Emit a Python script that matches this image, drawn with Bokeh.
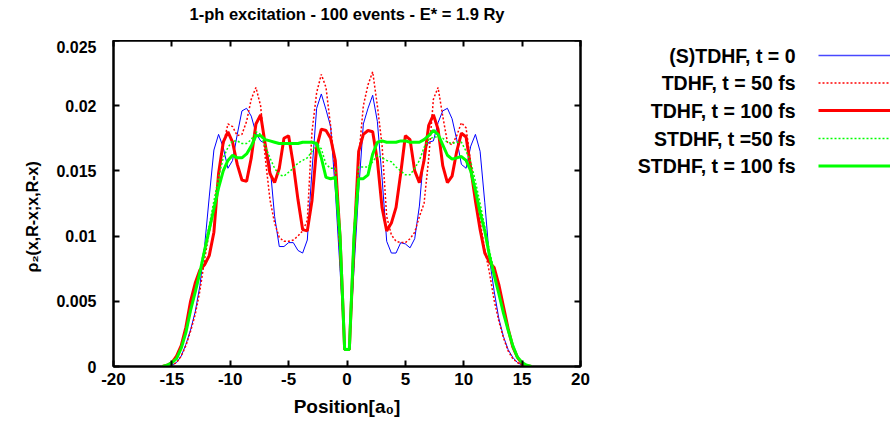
from bokeh.plotting import figure
from bokeh.models import Range1d, FixedTicker, LinearAxis
from bokeh.layouts import row, column
from bokeh.embed import file_html
from bokeh.resources import INLINE
from bokeh.core.properties import value

# ---------------- data ----------------
x_pos = [-15.8, -15.4, -15.0, -14.6, -14.2, -13.8, -13.4, -13.0, -12.6, -12.2,
         -11.8, -11.4, -11.0, -10.6, -10.2, -9.8, -9.4, -9.0, -8.6, -8.2,
         -7.8, -7.4, -7.0, -6.6, -6.2, -5.8, -5.4, -5.0, -4.6, -4.2,
         -3.8, -3.4, -3.0, -2.6, -2.2, -1.8, -1.4, -1.0, -0.6, -0.2,
         0.2, 0.6, 1.0, 1.4, 1.8, 2.2, 2.6, 3.0, 3.4, 3.8,
         4.2, 4.6, 5.0, 5.4, 5.8, 6.2, 6.6, 7.0, 7.4, 7.8,
         8.2, 8.6, 9.0, 9.4, 9.8, 10.2, 10.6, 11.0, 11.4, 11.8,
         12.2, 12.6, 13.0, 13.4, 13.8, 14.2, 14.6, 15.0, 15.4, 15.8]

rho_t0 = [0.0, 0.00005, 0.0001, 0.0003, 0.0008, 0.0017, 0.0028, 0.0042, 0.0062, 0.0092,
          0.0130, 0.0166, 0.0178, 0.0168, 0.0152, 0.0158, 0.0178, 0.0196, 0.0198, 0.0192,
          0.0179, 0.0173, 0.0171, 0.0155, 0.0115, 0.0092, 0.0092, 0.0095, 0.0095, 0.0089,
          0.0087, 0.0097, 0.0150, 0.0198, 0.0209, 0.0197, 0.0184, 0.0135, 0.0075, 0.0013,
          0.0013, 0.0075, 0.0135, 0.0186, 0.0198, 0.0208, 0.0188, 0.0145, 0.0096, 0.0087,
          0.0087, 0.0095, 0.0094, 0.0091, 0.0098, 0.0123, 0.0165, 0.0172, 0.0173, 0.0187,
          0.0196, 0.0198, 0.0190, 0.0174, 0.0155, 0.0152, 0.0169, 0.0178, 0.0165, 0.0126,
          0.0083, 0.0058, 0.0037, 0.0023, 0.0013, 0.0007, 0.0003, 0.0001, 0.00005, 0.0]

rho_tdhf50 = [0.0, 0.00005, 0.0001, 0.0003, 0.0008, 0.0016, 0.0027, 0.0040, 0.0058, 0.0082,
              0.0103, 0.0120, 0.0145, 0.0170, 0.0186, 0.0184, 0.0177, 0.0178, 0.0188, 0.0205,
              0.0214, 0.0200, 0.0160, 0.0128, 0.0110, 0.0099, 0.0096, 0.0096, 0.0097, 0.0100,
              0.0104, 0.0112, 0.0180, 0.0210, 0.0224, 0.0214, 0.0184, 0.0148, 0.0085, 0.0013,
              0.0013, 0.0085, 0.0160, 0.0200, 0.0216, 0.0226, 0.0200, 0.0170, 0.0115, 0.0101,
              0.0096, 0.0095, 0.0095, 0.0098, 0.0103, 0.0115, 0.0125, 0.0160, 0.0205, 0.0214,
              0.0192, 0.0172, 0.0170, 0.0177, 0.0187, 0.0183, 0.0155, 0.0128, 0.0111, 0.0090,
              0.0072, 0.0051, 0.0035, 0.0022, 0.0012, 0.0006, 0.0003, 0.0001, 0.00005, 0.0]

rho_tdhf100 = [0.0, 0.0001, 0.0003, 0.0008, 0.0016, 0.0030, 0.0050, 0.0064, 0.0074, 0.0078,
               0.0085, 0.0103, 0.0148, 0.0172, 0.0180, 0.0172, 0.0155, 0.0143, 0.0142, 0.0160,
               0.0186, 0.0193, 0.0170, 0.0148, 0.0141, 0.0152, 0.0175, 0.0177, 0.0155, 0.0128,
               0.0105, 0.0104, 0.0127, 0.0168, 0.0182, 0.0181, 0.0175, 0.0158, 0.0100, 0.0013,
               0.0013, 0.0095, 0.0165, 0.0178, 0.0181, 0.0180, 0.0158, 0.0122, 0.0104, 0.0110,
               0.0122, 0.0148, 0.0177, 0.0174, 0.0150, 0.0141, 0.0158, 0.0185, 0.0193, 0.0182,
               0.0154, 0.0141, 0.0146, 0.0165, 0.0179, 0.0176, 0.0152, 0.0127, 0.0105, 0.0087,
               0.0080, 0.0076, 0.0063, 0.0046, 0.0029, 0.0015, 0.0007, 0.0002, 0.00005, 0.0]

rho_stdhf50 = [0.0, 0.0001, 0.0002, 0.0006, 0.0014, 0.0027, 0.0042, 0.0058, 0.0074, 0.0091,
               0.0108, 0.0127, 0.0145, 0.0160, 0.0168, 0.0173, 0.0173, 0.0171, 0.0171, 0.0174,
               0.0180, 0.0178, 0.0169, 0.0160, 0.0152, 0.0147, 0.0146, 0.0149, 0.0152, 0.0156,
               0.0158, 0.0160, 0.0165, 0.0171, 0.0167, 0.0155, 0.0152, 0.0152, 0.0105, 0.0013,
               0.0013, 0.0105, 0.0153, 0.0153, 0.0153, 0.0157, 0.0162, 0.0160, 0.0158, 0.0157,
               0.0153, 0.0150, 0.0147, 0.0147, 0.0152, 0.0158, 0.0168, 0.0174, 0.0176, 0.0176,
               0.0175, 0.0172, 0.0171, 0.0172, 0.0172, 0.0165, 0.0157, 0.0142, 0.0125, 0.0107,
               0.0089, 0.0073, 0.0057, 0.0042, 0.0028, 0.0016, 0.0007, 0.0003, 0.0001, 0.0]

rho_stdhf100 = [0.0, 0.0001, 0.0003, 0.0006, 0.0014, 0.0026, 0.0043, 0.0057, 0.0072, 0.0089,
                0.0105, 0.0121, 0.0137, 0.0150, 0.0158, 0.0162, 0.0160, 0.0160, 0.0163, 0.0169,
                0.0177, 0.0177, 0.0174, 0.0173, 0.0172, 0.0171, 0.0171, 0.0171, 0.0171, 0.0171,
                0.0172, 0.0172, 0.0172, 0.0171, 0.0160, 0.0145, 0.0144, 0.0145, 0.0100, 0.0013,
                0.0013, 0.0100, 0.0144, 0.0144, 0.0147, 0.0163, 0.0172, 0.0173, 0.0172, 0.0172,
                0.0172, 0.0173, 0.0173, 0.0172, 0.0172, 0.0172, 0.0174, 0.0177, 0.0181, 0.0178,
                0.0170, 0.0162, 0.0159, 0.0160, 0.0161, 0.0158, 0.0150, 0.0135, 0.0118, 0.0104,
                0.0085, 0.0070, 0.0056, 0.0041, 0.0028, 0.0016, 0.0007, 0.0003, 0.0001, 0.0]

series_names = ["(S)TDHF, t = 0", "TDHF, t = 50 fs", "TDHF, t = 100 fs",
                "STDHF, t =50 fs", "STDHF, t = 100 fs"]

x_ticks = [-20, -15, -10, -5, 0, 5, 10, 15, 20]
x_tick_labels = ["-20", "-15", "-10", "-5", "0", "5", "10", "15", "20"]
y_ticks = [0, 0.005, 0.01, 0.015, 0.02, 0.025]
y_tick_labels = ["0", "0.005", "0.01", "0.015", "0.02", "0.025"]

title_text = "1-ph excitation - 100 events - E* = 1.9 Ry"
x_label = "Position[a\u2080]"
# trailing no-break spaces push the rotated label a little below the frame centre
y_label = "\u03c1\u2082(x,R-x;x,R-x)" + "\u00a0" * 6

# ---------------- style ----------------
FONT = "Liberation Sans"
styles = [
    dict(color="#0000ff", width=1.0, dash="solid"),
    dict(color="#ff0000", width=1.5, dash="2 2"),
    dict(color="#ff0000", width=3.0, dash="solid"),
    dict(color="#00ff00", width=1.5, dash="2 2"),
    dict(color="#00ff00", width=3.0, dash="solid"),
]
series = [rho_t0, rho_tdhf50, rho_tdhf100, rho_stdhf50, rho_stdhf100]

# ---------------- title strip (pixel coordinates, centred over the plot frame) ----------------
TH = 40
tfig = figure(frame_width=467, frame_height=TH, output_backend="svg", toolbar_location=None,
              x_range=Range1d(-20, 20), y_range=Range1d(TH, 0),
              min_border_left=113, min_border_right=10, min_border_top=0, min_border_bottom=0,
              outline_line_color=None)
tfig.axis.visible = False
tfig.grid.visible = False
tfig.text(x=[0], y=[13], text=[title_text], text_font=value(FONT), text_font_size="16.5px",
          text_font_style="bold", text_align="center", text_baseline="middle",
          text_color="black")

# ---------------- main plot ----------------
p = figure(frame_width=467, frame_height=326, output_backend="svg",
           toolbar_location=None, x_range=Range1d(-20, 20), y_range=Range1d(0, 0.025),
           min_border_left=113, min_border_top=0, min_border_right=10, min_border_bottom=0)
p.outline_line_color = "black"
p.outline_line_width = 2
p.grid.visible = False
p.background_fill_color = "white"
p.border_fill_color = "white"

for ys, st in zip(series, styles):
    p.line(x_pos, ys, line_color=st["color"], line_width=st["width"], line_dash=st["dash"])

def style_axis(ax, ticks, labels, show_labels):
    ax.ticker = FixedTicker(ticks=ticks)
    ax.major_tick_in = 6
    ax.major_tick_out = 0
    ax.minor_tick_line_color = None
    ax.major_tick_line_width = 2
    ax.major_tick_line_color = "black"
    ax.axis_line_width = 2
    ax.axis_line_color = "black"
    if show_labels:
        ax.major_label_overrides = {t: l for t, l in zip(ticks, labels)}
        ax.major_label_text_font = FONT
        ax.major_label_text_font_style = "bold"
        ax.major_label_text_color = "black"
        ax.axis_label_text_font = FONT
        ax.axis_label_text_font_style = "bold"
        ax.axis_label_text_color = "black"
    else:
        ax.major_label_text_font_size = "0px"
        ax.major_label_text_color = None
        ax.major_label_standoff = 0

style_axis(p.xaxis[0], x_ticks, x_tick_labels, True)
style_axis(p.yaxis[0], y_ticks, y_tick_labels, True)
p.xaxis[0].axis_label = x_label
p.yaxis[0].axis_label = y_label
p.xaxis[0].major_label_text_font_size = "17px"
p.yaxis[0].major_label_text_font_size = "16px"
p.xaxis[0].axis_label_text_font_size = "19px"
p.yaxis[0].axis_label_text_font_size = "16px"
p.xaxis[0].major_label_standoff = 6
p.xaxis[0].axis_label_standoff = 8
p.yaxis[0].major_label_standoff = 17
p.yaxis[0].axis_label_standoff = 12

ax_top = LinearAxis()
ax_right = LinearAxis()
style_axis(ax_top, x_ticks, x_tick_labels, False)
style_axis(ax_right, y_ticks, y_tick_labels, False)
p.add_layout(ax_top, "above")
p.add_layout(ax_right, "right")

# ---------------- legend panel (gnuplot style: text then sample line) ----------------
leg = figure(frame_width=300, frame_height=326, output_backend="svg", toolbar_location=None,
             x_range=Range1d(590, 890), y_range=Range1d(366, 40),
             min_border=0, outline_line_color=None)
leg.axis.visible = False
leg.grid.visible = False
row_y = [55.0, 82.5, 110.0, 138.0, 165.5]
leg_colors = ["#4848ff", "#ff0000", "#ff0000", "#00ff00", "#00ff00"]
leg.text(x=[795] * 5, y=row_y, text=series_names, text_font=value(FONT),
         text_font_style="bold", text_font_size="19.5px", text_align="right",
         text_baseline="middle", text_color="black")
for yy, st, c in zip(row_y, styles, leg_colors):
    leg.line([818, 890], [yy, yy], line_color=c, line_width=max(st["width"], 1.5),
             line_dash=st["dash"])

layout = column(tfig, row(p, leg))
open("out.html", "w").write(file_html(layout, INLINE))
